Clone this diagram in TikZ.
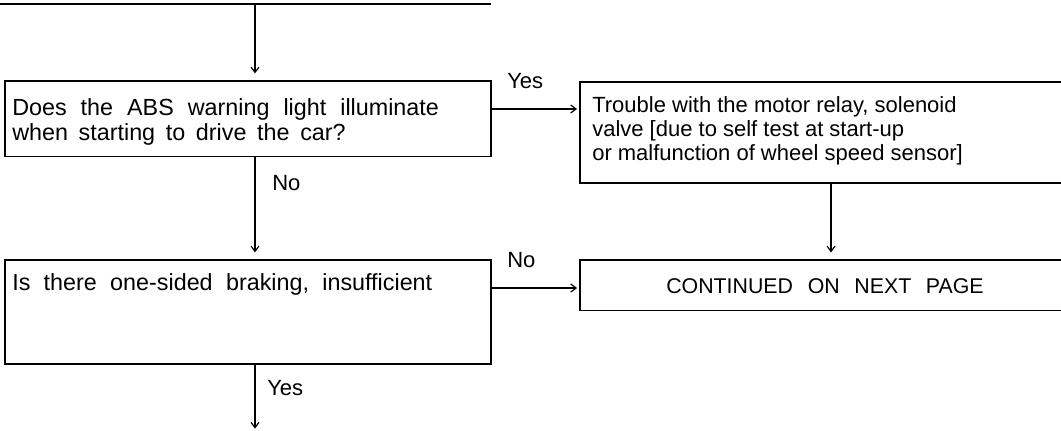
\documentclass[tikz,border=0pt]{standalone}
\usepackage{fontspec}
\setmainfont{Liberation Sans}
\usetikzlibrary{arrows.meta,fit}
\begin{document}
\begin{tikzpicture}[x=0.75pt,y=-0.75pt,
  boxst/.style={draw,line width=1.4pt,inner sep=0pt},
  arr/.style={line width=0.9pt,-{Straight Barb[length=4pt,width=6pt,line width=0.9pt]}},
  thickline/.style={line width=1.6pt},
  txt/.style={inner sep=0pt,align=left,font=\fontsize{17.5}{18.75}\selectfont},
  lbl/.style={inner sep=0pt,anchor=base west,font=\fontsize{16.5}{18}\selectfont}]
\useasboundingbox (0,0) rectangle (1061,430);
\clip (0,0) rectangle (1061,430);
% boxes
\node[boxst,fit={(5,81) (491,156.5)}] (box1) {};
\node[boxst,fit={(580,82) (1080,183)}] (box2) {};
\node[boxst,fit={(580,260) (1080,310.5)}] (box3) {};
\node[boxst,fit={(5,260) (491,364)}] (box4) {};
% texts
\node[txt,anchor=base west] (t1) at (12,140) {\spaceskip=10.5pt plus 1pt Does the ABS warning light illuminate\\\spaceskip=8pt plus 1pt when starting to drive the car?};
\node[txt,anchor=base west,font=\fontsize{16.5}{18}\selectfont] (t2) at (592,160) {Trouble with the motor relay, solenoid\\valve [due to self test at start-up\\or malfunction of wheel speed sensor]};
\node[txt,anchor=base west] (t4) at (12,290) {\spaceskip=10pt plus 1pt Is there one-sided braking, insufficient};
\node[txt,anchor=base,font=\fontsize{16}{18}\selectfont] (t3) at (825,293) {\spaceskip=11pt plus 1pt CONTINUED ON NEXT PAGE};
% coordinates
\coordinate (tl) at (0,4);
\coordinate (tr) at (491,4);
\coordinate (top) at (255,4);
\coordinate (ya) at (0,109);
\coordinate (yb) at (0,288);
\coordinate (xc) at (831,0);
\coordinate (endb) at (255,430);
\draw[thickline] (tl) -- (tr);
\draw[arr,shorten >=5pt] (top) -- (top |- box1.north);
\draw[arr,shorten >=1.5pt] (box1.east |- ya) -- (box2.west |- ya);
\draw[arr,shorten >=5pt] (box1.south -| top) -- (box4.north -| top);
\draw[arr,shorten >=1.5pt] (box4.east |- yb) -- (box3.west |- yb);
\draw[arr,shorten >=5pt] (box2.south -| xc) -- (box3.north -| xc);
\draw[arr,shorten >=1pt] (box4.south -| top) -- (endb);
% labels
\node[lbl] (lyes1) at (507,88) {Yes};
\node[lbl] (lno1) at (272,190.5) {No};
\node[lbl] (lno2) at (507,267) {No};
\node[lbl] (lyes2) at (267,395) {Yes};
\end{tikzpicture}
\end{document}
